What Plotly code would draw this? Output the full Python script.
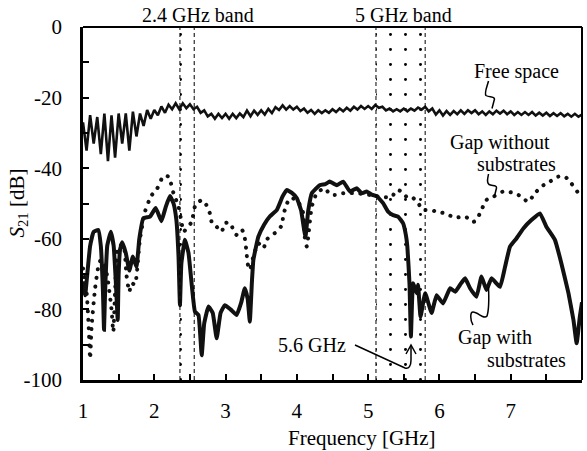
import re
import plotly.graph_objects as go

# ---------------- data ----------------
fs_start = 1.0
fs_step = 0.05
free_space_db = [
    -27, -35, -25, -33, -25.5, -36, -24.5, -38, -25, -37,
    -24.5, -33, -24.5, -35, -24, -31, -24.5, -28, -23.5, -26,
    -23.5, -25, -22.5, -24.3, -22, -23.3, -21.6, -23.3, -21.6, -23,
    -21.9, -23.3, -22.6, -24.3, -23.6, -25.3, -24.6, -26, -24.6, -25.8,
    -24.6, -26, -24.6, -25.8, -24.5, -25.5, -23.7, -25.3, -23.7, -24.9,
    -23.6, -24.8, -23.2, -24.4, -22.7, -23.5, -22.2, -23.4, -22.4, -23.4,
    -22.6, -23.8, -23.1, -24.3, -23.5, -24.6, -23.6, -24.4, -23.6, -24.3,
    -23.3, -24.1, -23.1, -23.9, -22.9, -23.7, -22.6, -23.4, -22.4, -23.2,
    -22.4, -23.2, -22.1, -22.9, -22.6, -23.6, -23.1, -23.9, -23.3, -23.9,
    -23.1, -23.9, -23.1, -23.7, -22.8, -23.4, -22.6, -23.9, -23.1, -24.8,
    -23.6, -25.1, -23.8, -24.9, -23.8, -24.7, -23.6, -24.6, -23.6, -24.4,
    -23.6, -24.7, -23.9, -24.9, -23.9, -24.7, -23.7, -24.5, -23.7, -24.7,
    -23.9, -24.9, -24.1, -24.9, -24.1, -24.9, -24.1, -25.1, -24.3, -25.1,
    -24.3, -25.2, -24.4, -25.2, -24.4, -25.3, -24.6, -25.4, -24.6, -25.4,
    -24.8,
]
free_space_freq = [round(fs_start + fs_step * i, 3) for i in range(len(free_space_db))]

with_sub_freq = [
    1.0, 1.03, 1.06, 1.10, 1.15, 1.215, 1.25, 1.28, 1.295, 1.31, 1.34, 1.39, 1.43, 1.46, 1.487,
    1.50, 1.52, 1.55, 1.60, 1.65, 1.70, 1.75, 1.79, 1.846, 1.94, 2.02, 2.10, 2.16, 2.22, 2.27,
    2.31, 2.34, 2.36, 2.38, 2.43, 2.48, 2.53, 2.57, 2.62, 2.665, 2.70, 2.76, 2.82, 2.875, 2.93,
    2.99, 3.07, 3.155, 3.22, 3.27, 3.31, 3.34, 3.37, 3.39, 3.46, 3.54, 3.62, 3.72, 3.80, 3.857,
    3.93, 4.0, 4.06, 4.12, 4.16, 4.21, 4.32, 4.40, 4.46, 4.51, 4.56, 4.65, 4.745, 4.84, 4.91,
    4.98, 5.05, 5.12, 5.21, 5.28, 5.35, 5.42, 5.49, 5.53, 5.55, 5.58, 5.60, 5.63, 5.68, 5.70,
    5.735, 5.80, 5.89, 5.96, 6.05, 6.15, 6.22, 6.29, 6.36, 6.43, 6.52, 6.59, 6.66, 6.73, 6.85,
    6.92, 6.99, 7.08, 7.18, 7.29, 7.41, 7.50, 7.62, 7.71, 7.81, 7.88, 7.925, 7.97, 8.0,
]
with_sub_db = [
    -72, -76, -70, -62, -58, -57.5, -62, -75, -85.8, -75, -62, -58, -62, -72, -83,
    -70, -63, -61, -64, -69, -65, -68, -60, -54.2, -53.7, -51.3, -55, -51, -47.9, -50,
    -54.7, -65, -78.8, -67, -60.3, -64, -74, -80.6, -81.6, -93, -84, -79.2, -81, -88.2, -81,
    -78.8, -80, -81.6, -78, -74, -77, -83.5, -72, -66, -59.4, -56, -53.7, -51.8, -48, -46.2,
    -47, -48.5, -52, -59.4, -52, -47.1, -44.8, -44.5, -43.8, -44.3, -44.8, -43.8, -46.6, -45.7, -47.1,
    -46.6, -47.5, -47.9, -49.9, -52.3, -53.3, -53.7, -55.6, -59, -62.2, -72.6, -87.7, -72.6, -75.4, -73,
    -82, -75.4, -81, -76, -78.3, -74, -75, -73, -71.2, -74, -76.4, -70.7, -74.5, -71.2, -73.6,
    -68, -62.2, -59.9, -57, -54.7, -52.8, -56.6, -60.3, -66.9, -75.4, -83, -89.6, -82, -78,
]

without_sub_freq = [
    1.0, 1.05, 1.08, 1.10, 1.12, 1.17, 1.215, 1.25, 1.30, 1.35, 1.40, 1.425, 1.45, 1.495, 1.565,
    1.61, 1.65, 1.68, 1.73, 1.75, 1.80, 1.87, 1.92, 1.965, 2.03, 2.13, 2.20, 2.27, 2.34, 2.385,
    2.41, 2.455, 2.525, 2.57, 2.665, 2.73, 2.78, 2.805, 2.875, 2.945, 2.99, 3.06, 3.11, 3.155, 3.23,
    3.27, 3.295, 3.31, 3.34, 3.39, 3.46, 3.53, 3.575, 3.65, 3.72, 3.79, 3.81, 3.855, 3.90, 4.0,
    4.09, 4.11, 4.14, 4.16, 4.21, 4.28, 4.39, 4.46, 4.53, 4.65, 4.84, 5.03, 5.17, 5.33, 5.40,
    5.47, 5.54, 5.61, 5.70, 5.77, 5.865, 5.96, 6.08, 6.22, 6.36, 6.475, 6.52, 6.59, 6.66, 6.755,
    6.895, 7.06, 7.15, 7.245, 7.34, 7.43, 7.55, 7.665, 7.76, 7.85, 7.97, 8.0,
]
without_sub_db = [
    -68.4, -75, -85, -94, -85, -74, -67.9, -66, -67, -72, -80, -86.3, -75, -62.2, -61.8,
    -70.3, -75, -72.6, -73, -70.7, -60, -52.3, -49.5, -47.6, -46.2, -42.2, -42.4, -47.1, -50.9, -55.6,
    -58, -57, -55.2, -50.9, -49, -50.4, -52.8, -55.2, -56.6, -58, -55.6, -55.4, -57.5, -58.9, -57.5,
    -59.9, -64.1, -67, -68.8, -65, -61.3, -62.7, -60.3, -58.9, -58, -56.1, -53.3, -50.4, -48.5, -49,
    -52.8, -59.4, -62.2, -59.4, -50.9, -47.1, -45.7, -47.3, -47.6, -47.1, -47.1, -47.6, -48.1, -48.1, -46.2,
    -46.6, -48.1, -48.1, -49.9, -51.8, -51.8, -52.3, -52.8, -54, -53.7, -55.2, -54.7, -51.8, -49, -48.1,
    -46.6, -47.1, -48.1, -49.5, -47.1, -45.2, -43.8, -42.4, -42.4, -44.3, -47.6, -48,
]

band_lo = [2.36, 5.11]
band_hi = [2.56, 5.80]
band_labels = ["2.4 GHz band", "5 GHz band"]

x_ticks = [1, 2, 3, 4, 5, 6, 7, 8]
y_ticks = [-100, -80, -60, -40, -20, 0]

# ---------------- layout helpers ----------------
W, H = 587, 451
L, R, T, B = 83, 582, 27, 380
FONT = "Liberation Serif"
FS = 21
FS_IN = 20


def fx(px):
    return 1 + (px - L) * 7.0 / (R - L)


def fy(py):
    return -(py - T) * 100.0 / (B - T)


def px_path(s):
    def rep(m):
        return f"{fx(float(m.group(1))):.4f},{fy(float(m.group(2))):.4f}"
    return re.sub(r'(-?[\d.]+),(-?[\d.]+)', rep, s)


fig = go.Figure()

# band pattern fills
for lo, hi in zip(band_lo, band_hi):
    fig.add_trace(go.Scatter(
        x=[lo, hi, hi, lo, lo], y=[-100, -100, 0, 0, -100],
        mode="lines", fill="toself", line=dict(width=0, color="rgba(0,0,0,0)"),
        fillcolor="rgba(0,0,0,0)",
        fillpattern=dict(shape=".", size=15, solidity=0.03, fgcolor="black",
                         bgcolor="rgba(0,0,0,0)", fgopacity=1),
        hoverinfo="skip", showlegend=False))

fig.add_trace(go.Scatter(x=free_space_freq, y=free_space_db, mode="lines",
                         line=dict(color="#111", width=2.6), showlegend=False))
fig.add_trace(go.Scatter(x=without_sub_freq, y=without_sub_db, mode="lines",
                         line=dict(color="#111", width=4, dash="0.1px,8.5px", shape="spline", smoothing=0.6),
                         showlegend=False))
fig.add_trace(go.Scatter(x=with_sub_freq, y=with_sub_db, mode="lines",
                         line=dict(color="#111", width=4, shape="spline", smoothing=0.35),
                         showlegend=False))

shapes = []
for v in band_lo + band_hi:
    shapes.append(dict(type="line", xref="x", yref="y", x0=v, x1=v, y0=-100, y1=0,
                       line=dict(color="black", width=1, dash="4px,3px"), layer="above"))
# top and right frame
shapes.append(dict(type="line", xref="paper", yref="paper", x0=0, x1=1, y0=1, y1=1,
                   line=dict(color="black", width=2)))
shapes.append(dict(type="line", xref="paper", yref="paper", x0=1, x1=1, y0=0, y1=1,
                   line=dict(color="black", width=2)))
# leader squiggles / arrow
leaders = [
    "M 488.5,81 C 487,87 484,93 486,95.5 C 489,97.5 494,96 494.5,99 L 492,108.5",
    "M 488.5,174 C 488,178 486,182 489,184.5 C 492,186 497,185 496.5,188 L 494.5,196",
    "M 473,325 C 470,320 470,312 473,312 C 478,312 484,320 487,316 C 489,310 489,298 488.5,287",
    "M 355,345 L 405,368 C 409,369 411,366 411,360 L 411,346",
    "M 406,354 L 411,345 L 416,354",
]
for p in leaders:
    shapes.append(dict(type="path", xref="x", yref="y", path=px_path(p),
                       line=dict(color="black", width=1.5)))

annots = []
for lab, cx in zip(band_labels, [198, 403]):
    annots.append(dict(text=lab, x=fx(cx), y=1 + (T - 15) / (B - T), xref="x", yref="paper",
                       showarrow=False, xanchor="center", yanchor="middle",
                       font=dict(family=FONT, size=FS_IN, color="black")))
for txt, px, py in [("Free space", 516.7, 71.7), ("Gap without", 500, 142), ("substrates", 516.7, 164),
                    ("Gap with", 495, 337), ("substrates", 526, 360), ("5.6 GHz", 312, 345)]:
    annots.append(dict(text=txt, x=fx(px), y=fy(py), xref="x", yref="y", showarrow=False,
                       xanchor="center", yanchor="middle",
                       font=dict(family=FONT, size=FS_IN, color="black")))
annots.append(dict(text="Frequency [GHz]", x=(362 - L) / (R - L), y=-(437.5 - B) / (B - T),
                   xref="paper", yref="paper", showarrow=False, xanchor="center", yanchor="middle",
                   font=dict(family=FONT, size=FS, color="black")))
annots.append(dict(text="<i>S</i><sub>21</sub> [dB]", x=(17 - L) / (R - L), y=0.5,
                   xref="paper", yref="paper", showarrow=False, textangle=-90,
                   xanchor="center", yanchor="middle",
                   font=dict(family=FONT, size=FS, color="black")))

axis_common = dict(showgrid=False, zeroline=False, showline=True, linecolor="black", linewidth=2.5,
                   ticks="inside", ticklen=6, tickwidth=1.5, tickcolor="black",
                   tickfont=dict(family=FONT, size=FS, color="black"))

fig.update_layout(
    width=W, height=H,
    margin=dict(l=L, r=W - R, t=T, b=H - B, pad=0),
    paper_bgcolor="white", plot_bgcolor="white",
    font=dict(family=FONT, size=FS, color="black"),
    shapes=shapes, annotations=annots, showlegend=False,
    xaxis=dict(range=[1, 8], tickvals=x_ticks, ticktext=[str(v) for v in x_ticks],
               minor=dict(ticks="inside", ticklen=6, tickwidth=1.5, dtick=0.5, tick0=1, tickcolor="black"),
               ticklabelstandoff=10, **axis_common),
    yaxis=dict(range=[-100, 0], tickvals=y_ticks, ticktext=[str(v) for v in y_ticks],
               minor=dict(ticks="inside", ticklen=6, tickwidth=1.5, dtick=10, tick0=0, tickcolor="black"),
               ticklabelstandoff=14, **axis_common),
)

post = """
var gd = document.getElementById('{plot_id}');
var tr = gd.querySelectorAll('.scatterlayer .trace');
if (tr.length > 3) {
  tr[3].querySelectorAll('path.js-line').forEach(function(p){ p.style.strokeLinecap = 'round'; });
}
"""
fig.write_html("out.html", post_script=post)
